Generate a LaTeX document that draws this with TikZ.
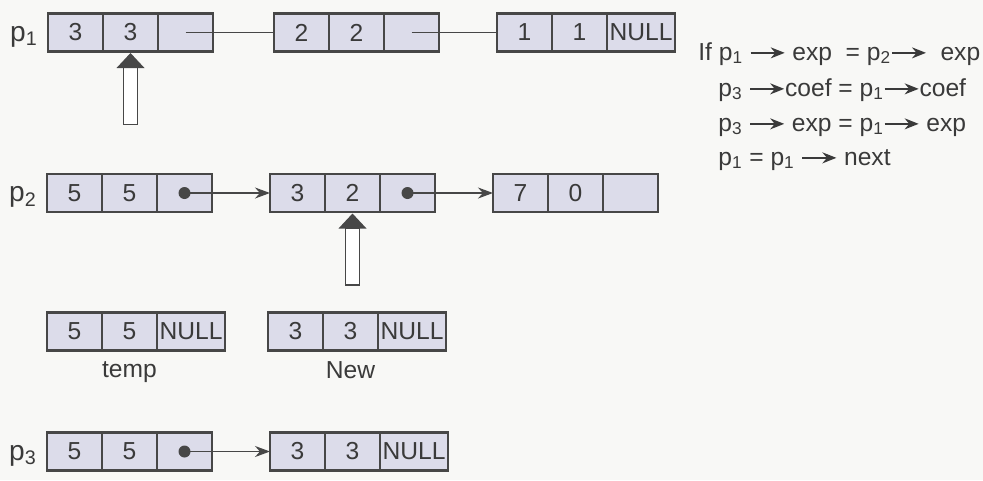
\documentclass[tikz,border=0pt]{standalone}
\usepackage{fontspec}
\setmainfont{Liberation Sans}
\usetikzlibrary{positioning,arrows.meta}
\definecolor{llcell}{HTML}{DCDCEA}
\definecolor{llline}{HTML}{474747}
\definecolor{lltext}{HTML}{3A3A3A}
\definecolor{llpaper}{HTML}{F8F8F6}

% small pointer arrow used inside the text lines
\newcommand{\ptrto}{\tikz[baseline=-0.55ex]\draw[draw=lltext, line width=1pt, -{Stealth[length=2.8mm,width=2.2mm]}] (0,0) -- (0.68,0);}

\begin{document}
\begin{tikzpicture}[
  node distance=0pt and 0pt,
  cell/.style={draw=llline, fill=llcell, line width=0.7pt, minimum width=1.1cm, minimum height=0.76cm, inner sep=0pt, outer sep=0pt, font=\fontsize{14}{16}\selectfont, text=lltext},
  nullcell/.style={cell, minimum width=1.36cm},
  frame/.style={draw=llline, line width=1.5pt},
  lbl/.style={font=\fontsize{14}{17}\selectfont, text=lltext, inner sep=0pt},
  plbl/.style={font=\fontsize{16}{18}\selectfont, text=lltext, inner sep=0pt, yshift=-0.08cm},
  link/.style={draw=llline, line width=0.8pt},
  ptr/.style={-{Stealth[length=3mm,width=2.2mm]}, draw=llline, line width=0.8pt},
  hd/.style={fill=llline},
  shaft/.style={draw=llline, fill=white, line width=0.8pt}
]
\useasboundingbox (0,0) rectangle (19.66,-9.6);
\fill[llpaper] (0,0) rectangle (19.66,-9.6);

% p1 list
\node[cell] (a1) at (1.51,-0.65) {3};
\node[cell, right=of a1] (a2) {3};
\node[cell, right=of a2] (a3) {};
\node[cell, right=1.22cm of a3] (b1) {2};
\node[cell, right=of b1] (b2) {2};
\node[cell, right=of b2] (b3) {};
\node[cell, right=1.16cm of b3] (c1) {1};
\node[cell, right=of c1] (c2) {1};
\node[nullcell, right=of c2] (c3) {NULL};

% p2 list
\node[cell] (d1) at (1.49,-3.86) {5};
\node[cell, right=of d1] (d2) {5};
\node[cell, right=of d2] (d3) {};
\node[cell, right=1.16cm of d3] (e1) {3};
\node[cell, right=of e1] (e2) {2};
\node[cell, right=of e2] (e3) {};
\node[cell, right=1.16cm of e3] (f1) {7};
\node[cell, right=of f1] (f2) {0};
\node[cell, right=of f2] (f3) {};

% temp and New
\node[cell] (t1) at (1.49,-6.63) {5};
\node[cell, right=of t1] (t2) {5};
\node[nullcell, right=of t2] (t3) {NULL};
\node[cell, right=0.86cm of t3] (n1) {3};
\node[cell, right=of n1] (n2) {3};
\node[nullcell, right=of n2] (n3) {NULL};

% p3 list
\node[cell] (q1) at (1.49,-9.03) {5};
\node[cell, right=of q1] (q2) {5};
\node[cell, right=of q2] (q3) {};
\node[cell, right=1.16cm of q3] (r1) {3};
\node[cell, right=of r1] (r2) {3};
\node[nullcell, right=of r2] (r3) {NULL};

\foreach \s/\e in {a1/a3, b1/b3, c1/c3, d1/d3, e1/e3, f1/f3, t1/t3, n1/n3, q1/q3, r1/r3}
  \draw[frame] (\s.north west) rectangle (\e.south east);

% pointer names and captions
\node[plbl, left=0.2cm of a1] (p1) {p\textsubscript{1}};
\node[plbl, left=0.2cm of d1] (p2) {p\textsubscript{2}};
\node[plbl, left=0.2cm of q1] (p3) {p\textsubscript{3}};
\node[lbl, below=0.22cm of t2] (temp) {temp};
\node[lbl, below=0.22cm of n2] (new) {New};

% links
\draw[link] (a3.center) -- (b1.west);
\draw[link] (b3.center) -- (c1.west);
\foreach \s/\e in {d3/e1, e3/f1, q3/r1} {
  \fill[llline] (\s.center) circle (0.12);
  \draw[ptr] (\s.center) -- (\e.west);
}

% hollow arrows marking the current terms
\foreach \n in {a2,e2} {
  \draw[shaft] ([xshift=-0.14cm,yshift=-0.32cm]\n.south) rectangle ([xshift=0.14cm,yshift=-1.46cm]\n.south);
  \fill[hd] ([yshift=-0.03cm]\n.south) -- ++(-0.28,-0.3) -- ++(0.56,0) -- cycle;
}

% the rule being applied
\node[lbl, anchor=base west] (if1) at (13.96,-1.2) {If p\textsubscript{1} \ptrto\ exp\ \ = p\textsubscript{2}\ptrto\ \ exp};
\node[lbl, anchor=base west] (if2) at (14.36,-1.92) {p\textsubscript{3} \ptrto coef = p\textsubscript{1}\ptrto coef};
\node[lbl, anchor=base west] (if3) at (14.36,-2.62) {p\textsubscript{3} \ptrto\ exp = p\textsubscript{1}\ptrto\ exp};
\node[lbl, anchor=base west] (if4) at (14.36,-3.3) {p\textsubscript{1} = p\textsubscript{1} \ptrto\ next};
\end{tikzpicture}
\end{document}
